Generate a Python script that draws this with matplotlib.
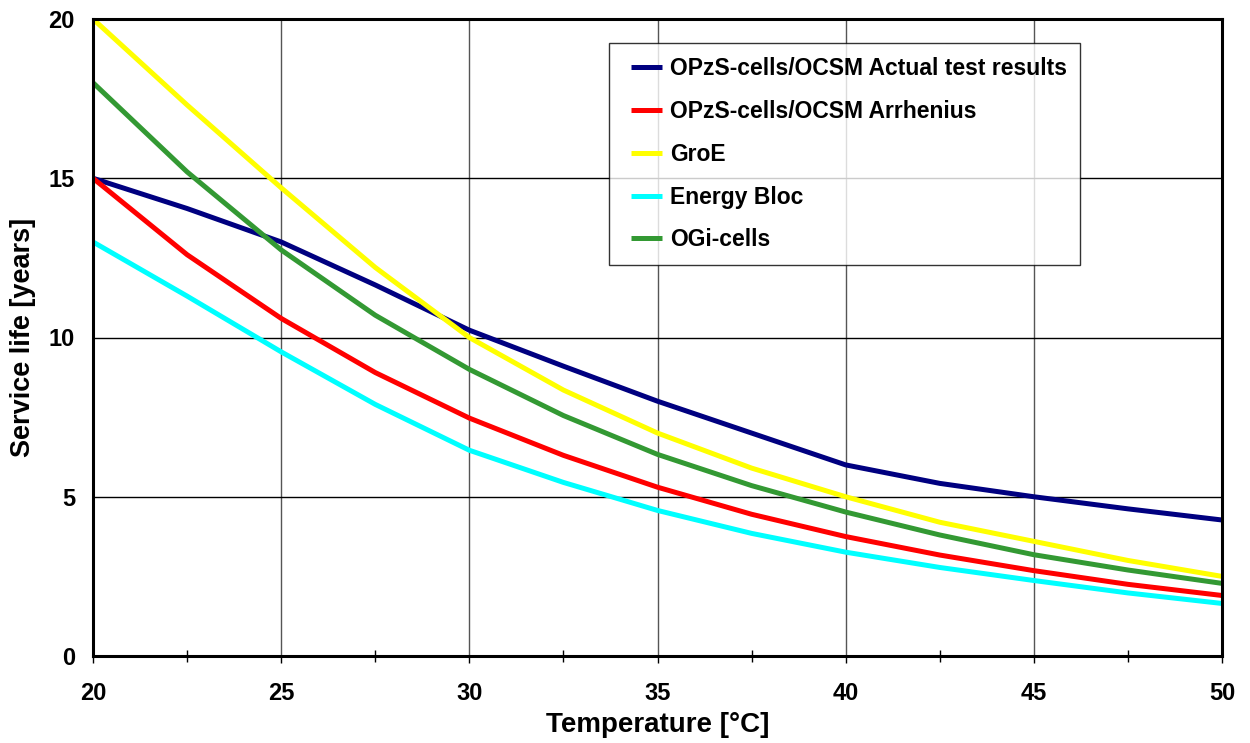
import matplotlib.pyplot as plt
from matplotlib.legend_handler import HandlerLine2D
from matplotlib.ticker import MultipleLocator

plt.rcParams['font.family'] = ['Liberation Sans', 'DejaVu Sans']
plt.rcParams['font.weight'] = 'bold'

# Temperature in degC, read every 2.5 degC off the chart
temp = [20, 22.5, 25, 27.5, 30, 32.5, 35, 37.5, 40, 42.5, 45, 47.5, 50]

# Service life in years
opzs_actual = [15, 14.05, 13, 11.65, 10.23, 9.1, 8, 7.0, 6.0, 5.42, 5.0, 4.62, 4.27]
opzs_arrhenius = [15, 12.6, 10.6, 8.9, 7.47, 6.3, 5.3, 4.45, 3.75, 3.17, 2.68, 2.25, 1.9]
groe = [20, 17.3, 14.7, 12.2, 10, 8.35, 7.0, 5.9, 5.0, 4.2, 3.6, 3.0, 2.5]
energy_bloc = [13, 11.3, 9.55, 7.9, 6.46, 5.45, 4.57, 3.85, 3.26, 2.78, 2.37, 1.98, 1.65]
ogi_cells = [18, 15.2, 12.75, 10.7, 9.0, 7.55, 6.33, 5.35, 4.52, 3.8, 3.18, 2.7, 2.28]

series = [
    ("OPzS-cells/OCSM Actual test results", opzs_actual, "#000080"),
    ("OPzS-cells/OCSM Arrhenius", opzs_arrhenius, "#FF0000"),
    ("GroE", groe, "#FFFF00"),
    ("Energy Bloc", energy_bloc, "#00FFFF"),
    ("OGi-cells", ogi_cells, "#339933"),
]

fig = plt.figure(figsize=(12.5, 7.43), dpi=100)
ax = fig.add_axes([93 / 1250, 1 - 656 / 743, (1222 - 93) / 1250, (656 - 19) / 743])

for label, values, color in series:
    ax.plot(temp, values, color=color, lw=3.6, label=label, zorder=3,
            solid_capstyle='butt')

ax.set_xlim(20, 50)
ax.set_ylim(0, 20)
ax.xaxis.set_major_locator(MultipleLocator(5))
ax.xaxis.set_minor_locator(MultipleLocator(2.5))
ax.yaxis.set_major_locator(MultipleLocator(5))

# grid: vertical lines grey, horizontal black
ax.grid(True, axis='x', which='major', color='#555555', lw=1.0, zorder=1)
ax.grid(True, axis='y', which='major', color='black', lw=1.0, zorder=1)

for s in ax.spines.values():
    s.set_linewidth(2.2)
    s.set_zorder(4)

ax.tick_params(axis='x', which='major', direction='out', length=5, width=1,
               labelsize=17, pad=14)
ax.tick_params(axis='x', which='minor', direction='inout', length=9, width=1)
ax.tick_params(axis='y', which='major', length=0, labelsize=17, pad=13)
for t in ax.get_xticklabels() + ax.get_yticklabels():
    t.set_fontweight('bold')

ax.set_xlabel("Temperature [°C]", fontsize=20, fontweight='bold', labelpad=5)
ax.set_ylabel("Service life [years]", fontsize=19.5, fontweight='bold', labelpad=9)

leg = ax.legend(loc='upper left', bbox_to_anchor=(609 / 1250, 1 - 43 / 743),
                bbox_transform=fig.transFigure, fontsize=16.5, frameon=True,
                fancybox=False, edgecolor='black', borderaxespad=0,
                numpoints=2, handlelength=2.05, handletextpad=0.0,
                labelspacing=0.87, borderpad=0.6,
                handler_map={plt.Line2D: HandlerLine2D(marker_pad=0.35)})
leg.get_frame().set_linewidth(1.0)
leg.set_zorder(5)
for t in leg.get_texts():
    t.set_fontweight('bold')

fig.savefig("out.png", dpi=100)
